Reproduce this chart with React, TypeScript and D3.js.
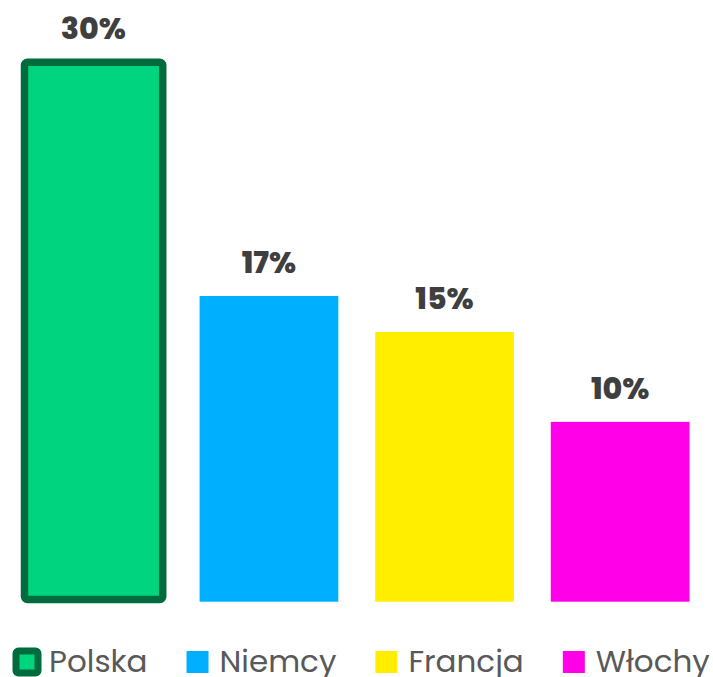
import React, { useEffect, useRef } from "react";
import * as d3 from "d3";

const categories = ["Polska", "Niemcy", "Francja", "Włochy"];
const values = [30, 17, 15, 10];
const labels = ["30%", "17%", "15%", "10%"];
const colors = ["#00D47F", "#00B0FF", "#FFEE00", "#FF00E8"];
const highlightStroke = "#006B3D";

const W = 713;
const H = 677;

export default function App() {
  const ref = useRef<SVGSVGElement>(null);

  useEffect(() => {
    const svg = d3.select(ref.current);
    svg.selectAll("*").remove();

    const x = d3
      .scaleBand<string>()
      .domain(categories)
      .range([24, 689.5])
      .paddingInner(0.21)
      .paddingOuter(0);
    const y = d3.scaleLinear().domain([0, 30]).range([601.7, 62.2]);

    const g = svg.append("g");
    categories.forEach((c, i) => {
      const x0 = x(c)!;
      const bw = x.bandwidth();
      if (i === 0) {
        g.append("rect")
          .attr("x", x0 + 0.5)
          .attr("y", y(values[i]))
          .attr("width", bw - 0.5)
          .attr("height", y(0) - y(values[i]) - 2.2)
          .attr("rx", 3)
          .attr("fill", colors[i])
          .attr("stroke", highlightStroke)
          .attr("stroke-width", 7.5);
      } else {
        g.append("rect")
          .attr("x", x0)
          .attr("y", y(values[i]))
          .attr("width", bw)
          .attr("height", y(0) - y(values[i]))
          .attr("fill", colors[i]);
      }
      g.append("text")
        .attr("x", x0 + bw / 2)
        .attr("y", y(values[i]) - 23)
        .attr("text-anchor", "middle")
        .attr("font-family", "Poppins, 'Open Sans', sans-serif")
        .attr("font-weight", 800)
        .attr("font-size", 30)
        .attr("fill", "#3F3F3F")
        .text(labels[i]);
    });

    // legend
    const lg = svg.append("g");
    let cx = 16;
    const sq = 22;
    const cy = 662;
    categories.forEach((c, i) => {
      const r = lg
        .append("rect")
        .attr("x", cx)
        .attr("y", cy - sq / 2)
        .attr("width", sq)
        .attr("height", sq)
        .attr("fill", colors[i]);
      if (i === 0) {
        r.attr("stroke", highlightStroke).attr("stroke-width", 7).attr("rx", 2.5);
      }
      const t = lg
        .append("text")
        .attr("x", cx + sq + 11)
        .attr("y", cy + 10)
        .attr("font-family", "Poppins, 'Open Sans', sans-serif")
        .attr("font-size", 31)
        .attr("fill", "#595959")
        .text(c);
      const tw = (t.node() as SVGTextElement).getComputedTextLength();
      cx = cx + sq + 11 + tw + 39;
    });
  }, []);

  return (
    <svg
      ref={ref}
      width={W}
      height={H}
      style={{ position: "absolute", left: 0, top: 0, background: "#fff" }}
    />
  );
}
